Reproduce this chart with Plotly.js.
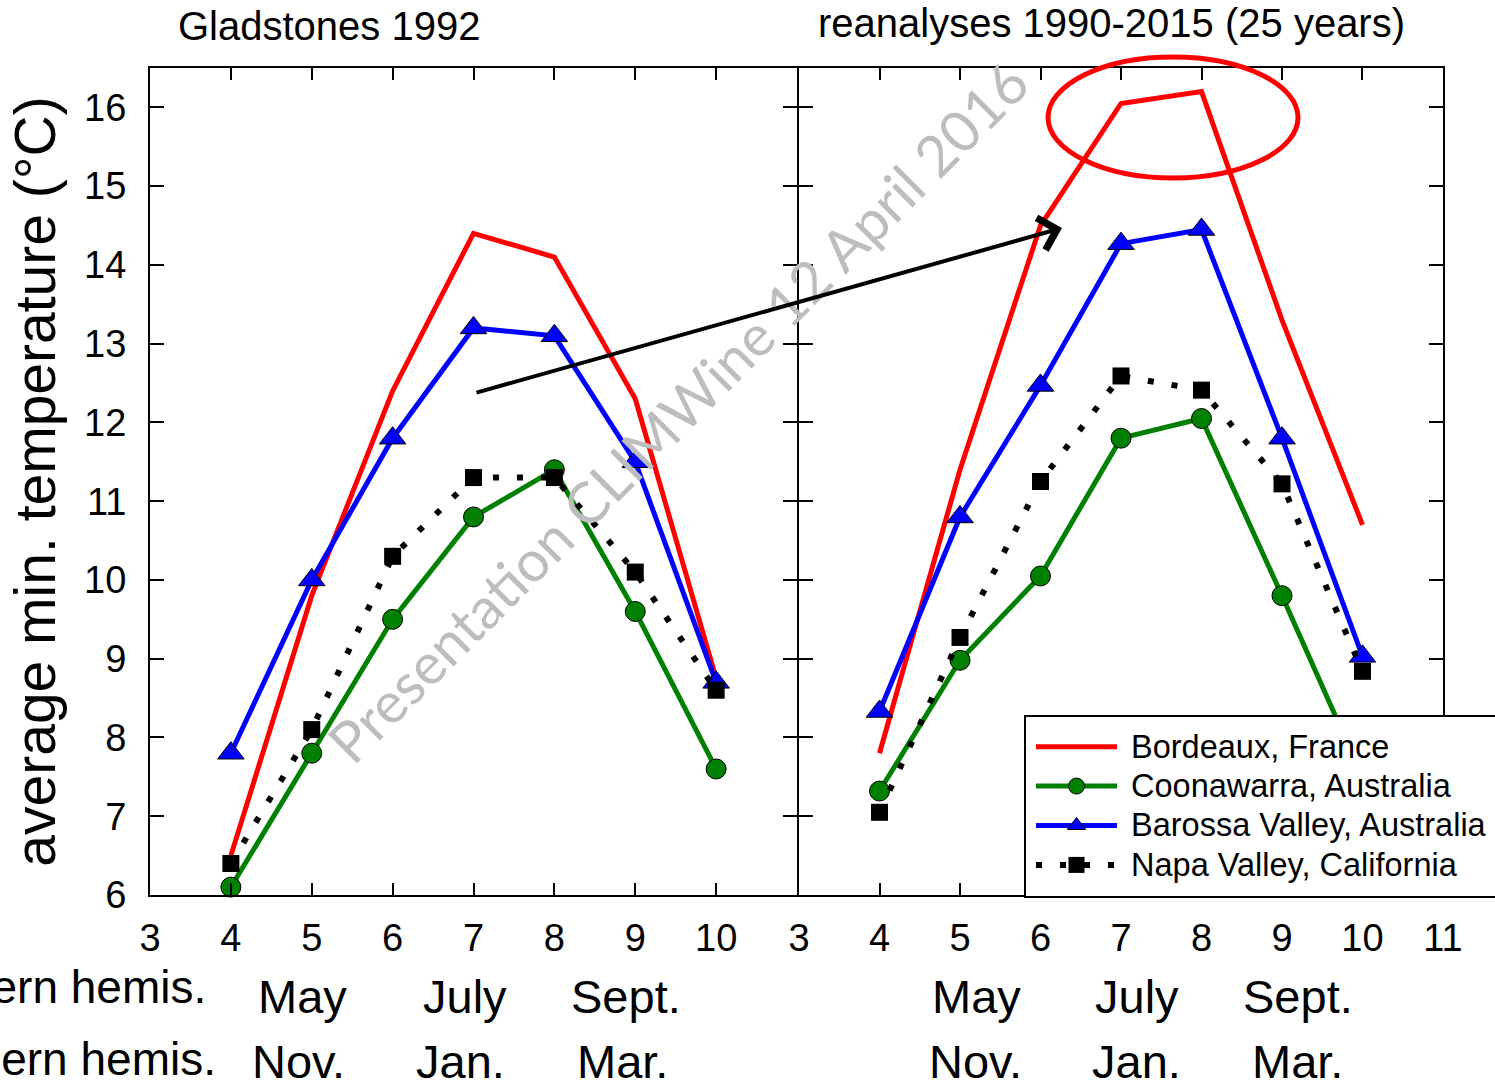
<!DOCTYPE html>
<html><head><meta charset="utf-8">
<script src="https://cdn.plot.ly/plotly-3.0.1.min.js"></script>
<style>html,body{margin:0;padding:0;background:#fff}#chart{width:1495px;height:1088px}</style>
</head><body><div id="chart"></div>
<script>
// ---- data ----
const months = [4, 5, 6, 7, 8, 9, 10];
const gladBordeaux   = [6.5, 9.8, 12.4, 14.4, 14.1, 12.3, 8.75];
const gladCoonawarra = [6.1, 7.8, 9.5, 10.8, 11.4, 9.6, 7.6];
const gladBarossa    = [7.8, 10.0, 11.8, 13.2, 13.1, 11.5, 8.7];
const gladNapa       = [6.4, 8.1, 10.3, 11.3, 11.3, 10.1, 8.6];
const reanBordeaux   = [7.8, 11.4, 14.5, 16.05, 16.2, 13.3, 10.7];
const reanCoonawarra = [7.32, 8.98, 10.05, 11.8, 12.05, 9.8, 7.5];
const reanBarossa    = [8.33, 10.8, 12.47, 14.27, 14.45, 11.8, 9.03];
const reanNapa       = [7.05, 9.27, 11.25, 12.59, 12.41, 11.22, 8.84];
const seriesNames = ['Bordeaux, France', 'Coonawarra, Australia', 'Barossa Valley, Australia', 'Napa Valley, California'];
const panelTitles = ['Gladstones 1992', 'reanalyses 1990-2015 (25 years)'];
const northMonths = ['May', 'July', 'Sept.'];
const southMonths = ['Nov.', 'Jan.', 'Mar.'];
const monthTickPos = [5, 7, 9];
const hemiLabels = ['Northern hemis.', 'Southern hemis.'];
const leftTicks = [3, 4, 5, 6, 7, 8, 9, 10];
const rightTicks = [3, 4, 5, 6, 7, 8, 9, 10, 11];
const yTicks = [6, 7, 8, 9, 10, 11, 12, 13, 14, 15, 16];
const yTitle = 'average min. temperature (°C)';
const watermark = 'Presentation CLIMWine 12 April 2016';

// ---- styles ----
const FONT = '"Liberation Sans", Arial, sans-serif';
const styles = [
  {mode: 'lines', line: {color: '#ff0000', width: 5}},
  {mode: 'lines+markers', line: {color: '#008000', width: 5},
   marker: {symbol: 'circle', size: 20, color: '#008000', line: {color: '#000', width: 1}}},
  {mode: 'lines+markers', line: {color: '#0000ff', width: 5},
   marker: {symbol: 'triangle-up', size: 23, color: '#0000ff', line: {color: '#000', width: 1}}},
  {mode: 'lines+markers', line: {color: '#000000', width: 6, dash: '6px,18px'},
   marker: {symbol: 'square', size: 17, color: '#000000', line: {width: 0}}}
];
const gladSeries = [gladBordeaux, gladCoonawarra, gladBarossa, gladNapa];
const reanSeries = [reanBordeaux, reanCoonawarra, reanBarossa, reanNapa];

const traces = [];
[gladSeries, reanSeries].forEach((set, p) => {
  set.forEach((vals, i) => {
    traces.push(Object.assign({
      type: 'scatter', x: months, y: vals,
      name: '<span style="font-size:32.5px">\u00a0' + seriesNames[i] + '</span>',
      legendgroup: 'g' + i, showlegend: p === 0, cliponaxis: false,
      xaxis: p === 0 ? 'x' : 'x2', yaxis: p === 0 ? 'y' : 'y2', hoverinfo: 'skip'
    }, JSON.parse(JSON.stringify(styles[i]))));
  });
});

// geometry (pixels)
const W = 1495, H = 1088, L = 150, R = 52, T = 68, B = 193;
const pw = W - L - R, ph = H - T - B;
const px = v => (v - L) / pw;
const py = v => (H - B - v) / ph;
const split = 0.5004;

const axCommon = {
  showline: true, linecolor: '#000', linewidth: 2, mirror: 'ticks',
  ticks: 'inside', tickcolor: '#000', tickwidth: 2, showgrid: false, zeroline: false,
  tickfont: {family: FONT, size: 38, color: '#000'}
};

const annotations = [];
panelTitles.forEach((t, i) => {
  annotations.push({text: t, xref: 'paper', yref: 'paper', x: px(i === 0 ? 329 : 1111), y: py(i === 0 ? 26 : 23),
    xanchor: 'center', yanchor: 'middle', showarrow: false, font: {family: FONT, size: 40, color: '#000'}});
});
['x', 'x2'].forEach((xr, p) => {
  monthTickPos.forEach((m, k) => {
    annotations.push({text: northMonths[k], xref: xr, yref: 'paper', x: m, y: py(997),
      xshift: p === 0 ? -9 : 16, xanchor: 'center', yanchor: 'middle', showarrow: false,
      font: {family: FONT, size: 47, color: '#000'}});
    annotations.push({text: southMonths[k], xref: xr, yref: 'paper', x: m, y: py(1061),
      xshift: p === 0 ? -13 : 15, xanchor: 'center', yanchor: 'middle', showarrow: false,
      font: {family: FONT, size: 47, color: '#000'}});
  });
});
annotations.push({text: hemiLabels[0], xref: 'paper', yref: 'paper', x: px(208), y: py(987),
  xanchor: 'right', yanchor: 'middle', showarrow: false, font: {family: FONT, size: 46, color: '#000'}});
annotations.push({text: hemiLabels[1], xref: 'paper', yref: 'paper', x: px(218), y: py(1059),
  xanchor: 'right', yanchor: 'middle', showarrow: false, font: {family: FONT, size: 46, color: '#000'}});
// watermark
annotations.push({text: watermark, xref: 'paper', yref: 'paper', x: px(677), y: py(412),
  xanchor: 'center', yanchor: 'middle', textangle: -45, showarrow: false,
  font: {family: 'Lato, "Open Sans", sans-serif', size: 57, color: '#bdbdbd'}});
// arrow
annotations.push({text: '', xref: 'paper', yref: 'paper', x: px(1062), y: py(228),
  ax: 475 - 1062, ay: 393 - 228, axref: 'pixel', ayref: 'pixel',
  showarrow: true, arrowhead: 4, arrowsize: 1.6, arrowwidth: 4, arrowcolor: '#000'});

const layout = {
  width: W, height: H, paper_bgcolor: '#fff', plot_bgcolor: '#fff',
  margin: {l: L, r: R, t: T, b: B, autoexpand: false},
  font: {family: FONT, color: '#000'},
  showlegend: true,
  legend: {x: px(1031), y: py(722), xanchor: 'left', yanchor: 'top', bgcolor: 'rgba(0,0,0,0)',
    borderwidth: 0, font: {family: FONT, size: 28, color: '#000'},
    itemwidth: 81, tracegroupgap: 0, traceorder: 'normal'},
  xaxis: Object.assign({}, axCommon, {domain: [0, split], range: [3, 11], anchor: 'y',
    tickmode: 'array', tickvals: leftTicks, ticklen: 12, ticklabelstandoff: 8}),
  xaxis2: Object.assign({}, axCommon, {domain: [split + 2 / pw, 1], range: [3, 11], anchor: 'y2',
    tickmode: 'array', tickvals: rightTicks, ticklen: 12, ticklabelstandoff: 8}),
  yaxis: Object.assign({}, axCommon, {domain: [0, 1], range: [6, 16.5], anchor: 'x',
    tickmode: 'array', tickvals: yTicks, ticklen: 14, ticklabelstandoff: 14,
    title: {text: yTitle, font: {family: FONT, size: 57, color: '#000'}, standoff: 10}}),
  yaxis2: Object.assign({}, axCommon, {domain: [0, 1], range: [6, 16.5], anchor: 'x2', matches: 'y',
    tickmode: 'array', tickvals: yTicks, ticklen: 14, showticklabels: false}),
  shapes: [
    {type: 'circle', xref: 'paper', yref: 'paper', x0: px(1048), x1: px(1298), y0: py(178), y1: py(57),
     line: {color: '#ff0000', width: 5}, layer: 'above'},
    {type: 'rect', xref: 'paper', yref: 'paper', x0: px(1025), x1: px(1510), y0: py(897), y1: py(716),
     fillcolor: '#ffffff', line: {color: '#000', width: 2}, layer: 'above'}
  ],
  annotations: annotations
};

Plotly.newPlot('chart', traces, layout, {staticPlot: true, displayModeBar: false});
</script>
</body></html>
